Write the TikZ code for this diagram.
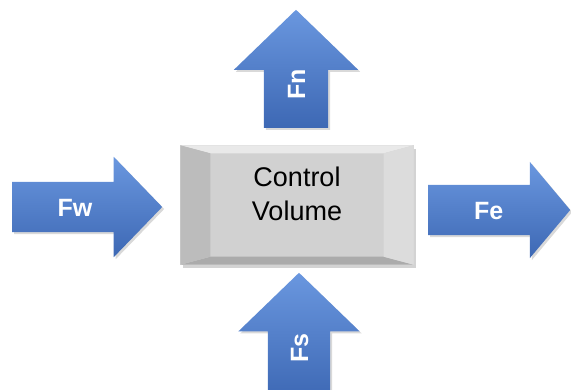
\documentclass[tikz,border=0pt]{standalone}
\usepackage{fontspec}
\setmainfont{Liberation Sans}
\usetikzlibrary{positioning, shapes.arrows, shadows, calc}
\definecolor{fluxblue}{HTML}{4674C6}
\definecolor{fluxlight}{HTML}{6A97DF}
\definecolor{fluxdark}{HTML}{3D68B4}
\definecolor{cvface}{HTML}{D1D1D1}
\definecolor{cvtop}{HTML}{E9E9E9}
\definecolor{cvleft}{HTML}{BCBCBC}
\definecolor{cvright}{HTML}{DCDCDC}
\definecolor{cvbottom}{HTML}{ABABAB}

\begin{document}
\begin{tikzpicture}[
  x=1pt, y=-1pt,
  flux/.style={
    single arrow, draw=none, single arrow head indent=0pt,
    single arrow tip angle=92, inner sep=0pt, anchor=tail,
    top color=fluxlight, middle color=fluxblue, bottom color=fluxdark,
    drop shadow={opacity=0.3, shadow xshift=2pt, shadow yshift=-2pt},
    text=white, font=\fontsize{25}{28}\selectfont\bfseries,
  },
  shaft/.style={text height=#1/2+9pt, text depth=#1/2-9pt},
  cvbox/.style={
    rectangle, draw=white!85!black, line width=0.4pt,
    fill=cvface, align=center, inner sep=0pt,
    minimum width=233, minimum height=119,
    drop shadow={opacity=0.35, shadow xshift=2pt, shadow yshift=-3pt},
    font=\fontsize{27}{34}\selectfont,
  },
]
\useasboundingbox (0,0) rectangle (571,389);

% control volume
\node[cvbox] (cv) at (297,205) {};
\fill[cvtop] (cv.north west) -- (cv.north east) -- ($(cv.north east)+(-30,8)$) -- ($(cv.north west)+(30,8)$) -- cycle;
\fill[cvbottom] (cv.south west) -- (cv.south east) -- ($(cv.south east)+(-30,-8)$) -- ($(cv.south west)+(30,-8)$) -- cycle;
\fill[cvleft] (cv.north west) -- ($(cv.north west)+(30,8)$) -- ($(cv.south west)+(30,-8)$) -- (cv.south west) -- cycle;
\fill[cvright] (cv.north east) -- ($(cv.north east)+(-30,8)$) -- ($(cv.south east)+(-30,-8)$) -- (cv.south east) -- cycle;
\node[align=center, font=\fontsize{27}{34}\selectfont] (cvtext) at ($(cv.center)+(0,-11)$) {Control\\Volume};

% fluxes
\node[flux, shaft=50pt, minimum height=150, single arrow head extend=25] (fw) at (12,207) {Fw\hspace{14pt}};
\node[flux, shaft=50pt, minimum height=142, single arrow head extend=23, single arrow tip angle=100] (fe) at (428,210) {Fe\hspace{12pt}};
\node[flux, shaft=64pt, rotate=90, minimum height=118, single arrow head extend=30] (fn) at (296,128) {Fn\hspace{16pt}};
\node[flux, shaft=62pt, rotate=90, minimum height=127, single arrow head extend=29.5] (fs) at (299,400) {\hspace{6pt}Fs};
\end{tikzpicture}
\end{document}
